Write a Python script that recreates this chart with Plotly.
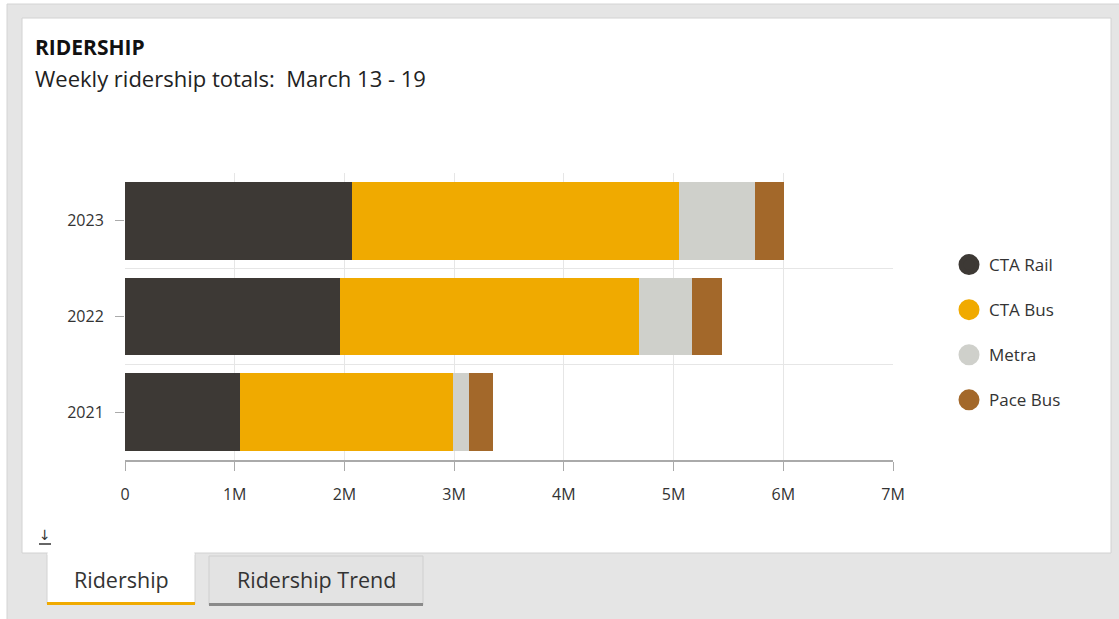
import plotly.graph_objects as go

# ---- data ----
years = ["2021", "2022", "2023"]
series_names = ["CTA Rail", "CTA Bus", "Metra", "Pace Bus"]
cta_rail = [1051000, 1962000, 2065000]
cta_bus = [1940000, 2727000, 2985000]
metra = [146000, 477000, 696000]
pace_bus = [219000, 276000, 258000]
x_tickvals = [0, 1e6, 2e6, 3e6, 4e6, 5e6, 6e6, 7e6]
x_ticktext = ["0", "1M", "2M", "3M", "4M", "5M", "6M", "7M"]
colors = ["#3d3935", "#f0aa00", "#cfd0cb", "#a3682a"]

title_text = "<b>RIDERSHIP</b>"
subtitle_text = "Weekly ridership totals:  March 13 - 19"
tab_labels = ["Ridership", "Ridership Trend"]

W, H = 1119, 619
L, R, T, B = 125, 893, 173, 460  # plot area pixel box
FONT = "'Open Sans', Lato, sans-serif"
TXT = "#333333"


def px(x):
    return (x - L) / (R - L)


def py(y):
    return (B - y) / (B - T)


ypos = list(range(len(years)))
values = [cta_rail, cta_bus, metra, pace_bus]

fig = go.Figure()
for name, vals, col in zip(series_names, values, colors):
    fig.add_trace(go.Bar(
        y=ypos, x=vals, orientation="h", name=name,
        marker=dict(color=col, line=dict(width=0)),
        showlegend=False, hoverinfo="skip",
    ))
# legend entries drawn as round markers
for name, col in zip(series_names, colors):
    fig.add_trace(go.Scatter(
        x=[None], y=[None], mode="markers", name=name, legendgroup=name,
        marker=dict(color=col, size=16, symbol="circle", line=dict(color=col, width=6)),
        showlegend=True,
    ))

shapes = []
# outer grey panel
shapes.append(dict(type="rect", xref="paper", yref="paper", layer="below",
                   x0=px(7), x1=px(1125), y0=py(630), y1=py(4),
                   fillcolor="#e5e5e5", line=dict(color="#d4d4d4", width=1)))
# white card
shapes.append(dict(type="rect", xref="paper", yref="paper", layer="below",
                   x0=px(22), x1=px(1111), y0=py(553), y1=py(18),
                   fillcolor="#ffffff", line=dict(color="#d2d2d2", width=1)))
# active tab
shapes.append(dict(type="rect", xref="paper", yref="paper", layer="below",
                   x0=px(47), x1=px(195), y0=py(604), y1=py(553),
                   fillcolor="#ffffff", line=dict(color="#d2d2d2", width=1)))
shapes.append(dict(type="rect", xref="paper", yref="paper", layer="below",
                   x0=px(47.5), x1=px(194.5), y0=py(555), y1=py(552),
                   fillcolor="#ffffff", line=dict(width=0)))
shapes.append(dict(type="rect", xref="paper", yref="paper", layer="below",
                   x0=px(47), x1=px(195), y0=py(605), y1=py(602),
                   fillcolor="#f0aa00", line=dict(width=0)))
# inactive tab
shapes.append(dict(type="rect", xref="paper", yref="paper", layer="below",
                   x0=px(209), x1=px(423), y0=py(605), y1=py(556),
                   fillcolor="#e3e3e3", line=dict(color="#cfcfcf", width=1)))
shapes.append(dict(type="rect", xref="paper", yref="paper", layer="below",
                   x0=px(209), x1=px(423), y0=py(606), y1=py(603),
                   fillcolor="#8a8a8a", line=dict(width=0)))
# download icon underline
shapes.append(dict(type="line", xref="paper", yref="paper",
                   x0=px(39), x1=px(51), y0=py(544), y1=py(544),
                   line=dict(color="#333333", width=1.5)))

annotations = [
    dict(text=title_text, xref="paper", yref="paper", x=px(33), y=py(47),
         xanchor="left", yanchor="middle", showarrow=False,
         font=dict(family=FONT, size=21, color="#111111")),
    dict(text=subtitle_text, xref="paper", yref="paper", x=px(33), y=py(78),
         xanchor="left", yanchor="middle", showarrow=False,
         font=dict(family=FONT, size=22, color="#222222")),
    dict(text="↓", xref="paper", yref="paper", x=px(45), y=py(535),
         xanchor="center", yanchor="middle", showarrow=False,
         font=dict(family="DejaVu Sans", size=14, color="#333333")),
    dict(text=tab_labels[0], xref="paper", yref="paper", x=px(121), y=py(579),
         xanchor="center", yanchor="middle", showarrow=False,
         font=dict(family=FONT, size=21.5, color=TXT)),
    dict(text=tab_labels[1], xref="paper", yref="paper", x=px(316), y=py(579),
         xanchor="center", yanchor="middle", showarrow=False,
         font=dict(family=FONT, size=21.5, color=TXT)),
]

fig.update_layout(
    width=W, height=H,
    margin=dict(l=L, r=W - R, t=T, b=H - B, pad=0),
    paper_bgcolor="#ffffff", plot_bgcolor="rgba(0,0,0,0)",
    barmode="stack", bargap=0.19,
    font=dict(family=FONT, size=16, color=TXT),
    shapes=shapes, annotations=annotations,
    showlegend=True,
    legend=dict(
        xref="container", yref="container",
        x=949 / W, y=1 - 247 / H, xanchor="left", yanchor="top",
        font=dict(family=FONT, size=17, color=TXT),
        tracegroupgap=20, bgcolor="rgba(0,0,0,0)",
        itemclick=False, itemdoubleclick=False,
    ),
    xaxis=dict(
        range=[0, 7e6], tickvals=x_tickvals, ticktext=x_ticktext,
        showgrid=True, gridcolor="#e6e6e6", gridwidth=1,
        zeroline=False, showline=True, linecolor="#aaaaaa", linewidth=1.5,
        ticks="outside", ticklen=9, tickcolor="#aaaaaa", tickwidth=1,
        ticklabelstandoff=10, tickfont=dict(size=16, color=TXT),
        fixedrange=True,
    ),
    yaxis=dict(
        range=[-0.5, 2.5], tickvals=ypos, ticktext=years,
        showgrid=False, zeroline=False, showline=False,
        ticks="outside", ticklen=9, tickcolor="#aaaaaa", tickwidth=1,
        ticklabelstandoff=8, tickfont=dict(size=16, color=TXT),
        minor=dict(tickvals=[-0.5, 0.5, 1.5, 2.5], showgrid=True,
                   gridcolor="#e6e6e6", gridwidth=1, ticks=""),
        fixedrange=True,
    ),
)

fig.write_html("out.html", config={"displayModeBar": False})
